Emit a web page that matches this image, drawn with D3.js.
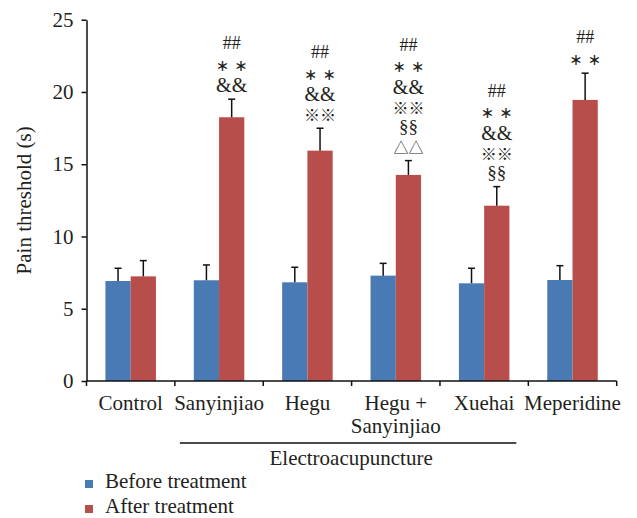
<!DOCTYPE html>
<html>
<head>
<meta charset="utf-8">
<script src="https://cdn.jsdelivr.net/npm/d3@7"></script>
<style>
  body { margin: 0; background: #fff; }
  text { font-family: "Liberation Serif", "Noto Sans CJK SC", serif; fill: #231f20; }
</style>
</head>
<body>
<svg width="637" height="518"></svg>
<script>
// data
var categories = ["Control", "Sanyinjiao", "Hegu", "Hegu + Sanyinjiao", "Xuehai", "Meperidine"];
var labelLines = [["Control"], ["Sanyinjiao"], ["Hegu"], ["Hegu +", "Sanyinjiao"], ["Xuehai"], ["Meperidine"]];
var series = ["Before treatment", "After treatment"];
var before = [6.92, 6.97, 6.83, 7.29, 6.76, 6.99];
var beforeErr = [0.88, 1.06, 1.04, 0.85, 1.04, 0.99];
var after = [7.24, 18.25, 15.94, 14.26, 12.13, 19.45];
var afterErr = [1.09, 1.25, 1.55, 0.99, 1.32, 1.85];
var marks = [
  [],
  ["##", "∗ ∗", "&&"],
  ["##", "∗ ∗", "&&", "※※"],
  ["##", "∗ ∗", "&&", "※※", "§§", "△△"],
  ["##", "∗ ∗", "&&", "※※", "§§"],
  ["##", "∗ ∗"]
];
var yTicks = [0, 5, 10, 15, 20, 25];

var colors = {"Before treatment": "#4a7ab4", "After treatment": "#b84e4c"};

var svg = d3.select("svg");
var plotL = 86.5, plotR = 616.7, plotT = 19.7, plotB = 381;
var fs = "21px";

var x0 = d3.scaleBand().domain(categories).range([plotL, plotR]).padding(0);
var x1 = d3.scaleBand().domain(series).range([0, x0.bandwidth()]).paddingInner(0).paddingOuter(0.75);
var y = d3.scaleLinear().domain([0, 25]).range([plotB, plotT]);

var rows = categories.map(function(c, i) {
  return {cat: c, vals: [
    {s: series[0], v: before[i], e: beforeErr[i]},
    {s: series[1], v: after[i], e: afterErr[i]}
  ], marks: marks[i], lines: labelLines[i]};
});

// bars
var g = svg.selectAll("g.grp").data(rows).enter().append("g")
  .attr("class", "grp")
  .attr("transform", function(d) { return "translate(" + x0(d.cat) + ",0)"; });

g.selectAll("rect").data(function(d) { return d.vals; }).enter().append("rect")
  .attr("x", function(d) { return x1(d.s); })
  .attr("width", x1.bandwidth())
  .attr("y", function(d) { return y(d.v); })
  .attr("height", function(d) { return y(0) - y(d.v); })
  .attr("fill", function(d) { return colors[d.s]; });

// error bars (upper only)
var eb = g.selectAll("g.err").data(function(d) { return d.vals; }).enter().append("g").attr("class", "err");
eb.append("line")
  .attr("x1", function(d) { return x1(d.s) + x1.bandwidth() / 2; })
  .attr("x2", function(d) { return x1(d.s) + x1.bandwidth() / 2; })
  .attr("y1", function(d) { return y(d.v); })
  .attr("y2", function(d) { return y(d.v + d.e); })
  .attr("stroke", "#111").attr("stroke-width", 1.5);
eb.append("line")
  .attr("x1", function(d) { return x1(d.s) + x1.bandwidth() / 2 - 3.5; })
  .attr("x2", function(d) { return x1(d.s) + x1.bandwidth() / 2 + 3.5; })
  .attr("y1", function(d) { return y(d.v + d.e); })
  .attr("y2", function(d) { return y(d.v + d.e); })
  .attr("stroke", "#111").attr("stroke-width", 1.5);

// significance marks stacked above the after bar
var markSize = {"##": 18, "∗ ∗": 16, "&&": 20, "※※": 16, "§§": 19, "△△": 15};
var markFont = {"∗ ∗": "DejaVu Sans", "※※": "Noto Sans CJK SC", "△△": "Noto Sans CJK SC"};
g.each(function(d) {
  var a = d.vals[1];
  var cx = x1(a.s) + x1.bandwidth() / 2;
  var base = y(a.v + a.e) - 14;
  var n = d.marks.length;
  d3.select(this).selectAll("text.mk").data(d.marks).enter().append("text")
    .attr("class", "mk")
    .attr("x", cx)
    .attr("y", function(m, i) { return base - (n - 1 - i) * 20 - (m == "##" ? 2 : 0); })
    .attr("text-anchor", "middle")
    .attr("dominant-baseline", "central")
    .style("font-size", function(m) { return markSize[m] + "px"; })
    .style("font-family", function(m) { return markFont[m] || null; })
    .text(function(m) { return m; });
});

// y axis
var yAxis = svg.append("g")
  .attr("transform", "translate(" + plotL + ",0)")
  .call(d3.axisLeft(y).tickValues(yTicks).tickSize(5).tickPadding(8).tickSizeOuter(0));
yAxis.selectAll("text").style("font-size", fs).attr("fill", "#231f20");
yAxis.selectAll("line, path").attr("stroke", "#111").attr("stroke-width", 1.5);

// x axis with ticks between groups
var xAxis = svg.append("g");
xAxis.append("line")
  .attr("x1", plotL).attr("x2", plotR).attr("y1", plotB).attr("y2", plotB)
  .attr("stroke", "#111").attr("stroke-width", 1.5);
var edges = categories.map(function(c) { return x0(c); }).concat([plotR]);
xAxis.selectAll("line.tk").data(edges).enter().append("line")
  .attr("class", "tk")
  .attr("x1", function(d) { return d; }).attr("x2", function(d) { return d; })
  .attr("y1", plotB).attr("y2", plotB + 5)
  .attr("stroke", "#111").attr("stroke-width", 1.5);

var lbl = xAxis.selectAll("text.cat").data(rows).enter().append("text")
  .attr("class", "cat")
  .attr("text-anchor", "middle")
  .attr("x", function(d) { return x0(d.cat) + x0.bandwidth() / 2; })
  .attr("y", 410)
  .style("font-size", fs);
lbl.selectAll("tspan").data(function(d) { return d.lines; }).enter().append("tspan")
  .attr("x", function() { var p = d3.select(this.parentNode).datum(); return x0(p.cat) + x0.bandwidth() / 2; })
  .attr("dy", function(l, i) { return i == 0 ? 0 : 22.5; })
  .text(function(l) { return l; });

// electroacupuncture bracket
var bx1 = x0("Sanyinjiao") + 5, bx2 = x0("Xuehai") + x0.bandwidth() - 12;
svg.append("line")
  .attr("x1", bx1).attr("x2", bx2).attr("y1", 443).attr("y2", 443)
  .attr("stroke", "#111").attr("stroke-width", 1.3);
svg.append("text")
  .attr("x", (bx1 + bx2) / 2 + 3).attr("y", 465)
  .attr("text-anchor", "middle")
  .style("font-size", fs)
  .text("Electroacupuncture");

// y title
svg.append("text")
  .attr("transform", "translate(31," + ((plotT + plotB) / 2) + ") rotate(-90)")
  .attr("text-anchor", "middle")
  .style("font-size", fs)
  .text("Pain threshold (s)");

// legend
var lg = svg.selectAll("g.lg").data(series).enter().append("g")
  .attr("class", "lg")
  .attr("transform", function(d, i) { return "translate(85," + (480 + i * 25) + ")"; });
lg.append("rect").attr("width", 8).attr("height", 8)
  .attr("fill", function(d) { return colors[d]; });
lg.append("text").attr("x", 20).attr("y", 8)
  .style("font-size", fs)
  .text(function(d) { return d; });
</script>
</body>
</html>
